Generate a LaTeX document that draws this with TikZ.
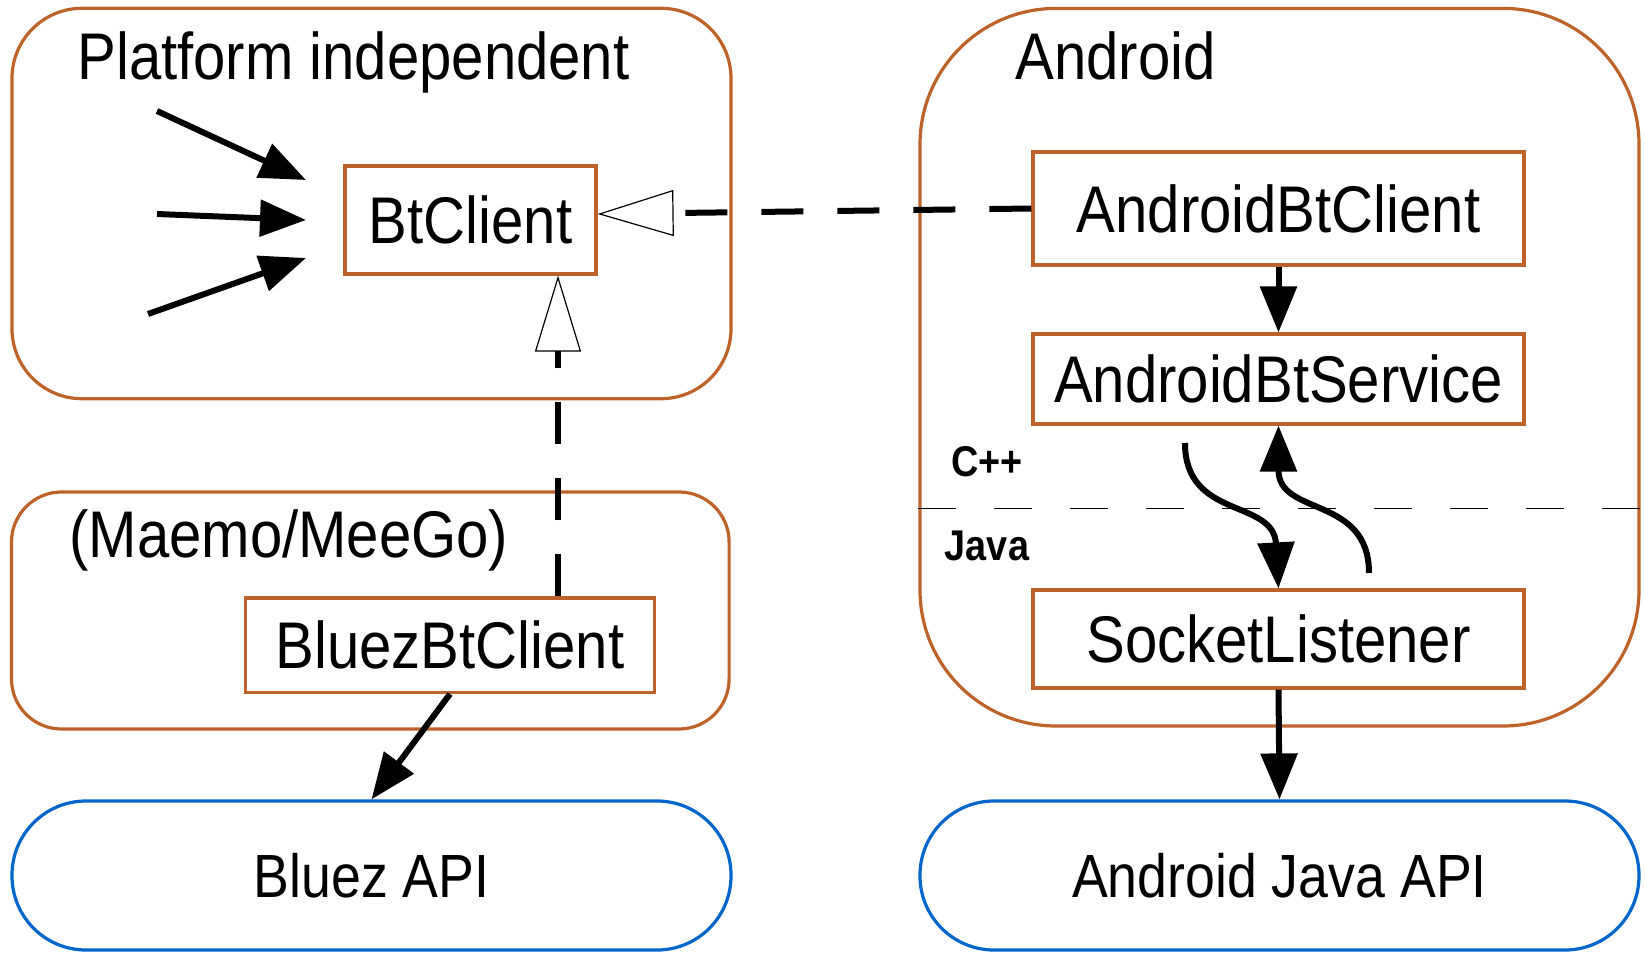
\documentclass[tikz,border=0pt]{standalone}
\usepackage{fontspec}
\setmainfont{Liberation Sans}[FakeStretch=0.88]
\usetikzlibrary{arrows.meta}
\definecolor{boxorange}{RGB}{190,98,42}
\definecolor{apiblue}{RGB}{0,102,204}
\begin{document}
\begin{tikzpicture}[x=0.5pt,y=-0.5pt,
  container/.style={draw=boxorange,line width=1.6pt,inner sep=0pt},
  cls/.style={draw=boxorange,line width=1.6pt,inner sep=0pt,font=\fontsize{33}{36}\selectfont},
  api/.style={draw=apiblue,line width=1.6pt,inner sep=0pt,rounded corners=37pt,minimum width=359.5pt,minimum height=74.5pt,font=\fontsize{30.5}{33}\selectfont},
  title/.style={anchor=base west,inner sep=0pt,font=\fontsize{33}{36}\selectfont},
  lang/.style={inner sep=0pt,font=\fontsize{21.5}{24}\selectfont\bfseries},
  call/.style={line width=3pt,-{Triangle[length=23pt,width=18pt]}},
  inherit/.style={line width=3pt,dash pattern=on 21pt off 17pt,-{Triangle[open,length=38pt,width=23pt,line width=0.6pt]}},
  sep/.style={line width=0.5pt,dash pattern=on 19pt off 19pt},
]
\useasboundingbox (0,0) rectangle (1645,953);
% containers
\node[container,minimum width=359.5pt,minimum height=195.2pt,rounded corners=35pt] (pi) at (371.5,203.5) {};
\node[container,minimum width=358.8pt,minimum height=118.5pt,rounded corners=25pt] (maemo) at (370.3,610.5) {};
\node[container,minimum width=359.5pt,minimum height=358.8pt,rounded corners=68pt] (andr) at (1279.5,367.2) {};
% titles
\node[title] (pititle) at (77,79) {Platform independent};
\node[title] (andtitle) at (1015,79) {Android};
\node[title] (maemotitle) at (69,557) {(Maemo/MeeGo)};
\node[lang] (cpp) at (987,462) {C++};
\node[lang] (java) at (987,546) {Java};
% separator
\coordinate (sepy) at (0,508);
\draw[sep] (andr.west |- sepy) -- (andr.east |- sepy);
% classes
\node[cls,minimum width=125.5pt,minimum height=54pt] (btc) at (470.5,220) {BtClient};
\node[cls,minimum width=204.6pt,minimum height=47.2pt] (bbc) at (450,645.2) {BluezBtClient};
\node[cls,minimum width=245.5pt,minimum height=56.5pt] (abc) at (1278.5,208.5) {AndroidBtClient};
\node[cls,minimum width=245.5pt,minimum height=45pt] (abs) at (1278.5,379) {AndroidBtService};
\node[cls,minimum width=245.5pt,minimum height=49pt] (sl) at (1278.5,639) {SocketListener};
% APIs
\node[api] (bapi) at (371.5,875.5) {Bluez API};
\node[api] (ajapi) at (1279.5,875.5) {Android Java API};
% incoming arrows to BtClient
\coordinate (in1s) at (157,111);
\coordinate (in1e) at (306,180);
\coordinate (in2s) at (157,214);
\coordinate (in2e) at (306,220);
\coordinate (in3s) at (148,314);
\coordinate (in3e) at (306,258);
\draw[call] (in1s) -- (in1e);
\draw[call] (in2s) -- (in2e);
\draw[call] (in3s) -- (in3e);
% inheritance
\draw[inherit] (abc.west) -- ([yshift=3pt]btc.east);
\coordinate (inhx) at (558,0);
\draw[inherit] (bbc.north -| inhx) -- (btc.south -| inhx);
% calls
\draw[call] (bbc.south) -- (bapi.north);
\draw[call] (abc.south) -- (abs.north);
\draw[call] (sl.south) -- (ajapi.north);
\coordinate (dstart) at (1185,443);
\coordinate (ustart) at (1369,573);
\draw[call] (dstart) .. controls +(0,77) and +(-5,-90) .. (sl.north);
\draw[call] (ustart) .. controls +(0,-78) and +(0,91) .. (abs.south);
\end{tikzpicture}
\end{document}
